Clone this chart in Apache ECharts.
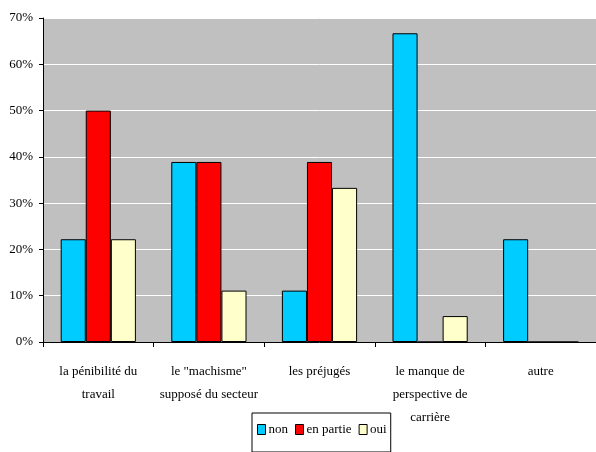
<!DOCTYPE html>
<html>
<head>
<meta charset="utf-8">
<script src="https://cdn.jsdelivr.net/npm/echarts@6/dist/echarts.min.js"></script>
<style>
  html, body { margin: 0; padding: 0; background: #fff; }
  #chart { width: 596px; height: 452px; }
</style>
</head>
<body>
<div id="chart"></div>
<script>
// categories and values (percent)
const categories = [
  'la pénibilité du\ntravail',
  'le "machisme"\nsupposé du secteur',
  'les préjugés',
  'le manque de\nperspective de\ncarrière',
  'autre'
]
const seriesNames = ['non', 'en partie', 'oui']
const nonValues = [22.2, 38.9, 11.1, 66.7, 22.2]
const enPartieValues = [50, 38.9, 38.9, 0, 0]
const ouiValues = [22.2, 11.1, 33.3, 5.6, 0]
const colors = ['#00ccff', '#ff0000', '#ffffcc']

const chart = echarts.init(document.getElementById('chart'))
const font = 'Liberation Serif'

const makeSeries = (name, values, color) => ({
  name: name,
  type: 'bar',
  data: values,
  barGap: '0%',
  barCategoryGap: '32%',
  itemStyle: { color: color, borderColor: '#000', borderWidth: 1 },
  animation: false
})

chart.setOption({
  animation: false,
  grid: { left: 43, top: 18, width: 557, height: 324, backgroundColor: '#c0c0c0', show: true, borderWidth: 0 },
  legend: {
    left: 252,
    top: 413,
    itemWidth: 8,
    itemHeight: 10,
    itemGap: 7,
    padding: [10, 4, 16, 5],
    borderColor: '#000',
    borderWidth: 1,
    icon: 'rect',
    textStyle: { fontFamily: font, fontSize: 13, color: '#000', padding: [0, 0, 0, -2] },
    data: seriesNames.map(n => ({ name: n, itemStyle: { borderColor: '#000', borderWidth: 1 } }))
  },
  xAxis: {
    type: 'category',
    data: categories,
    z: 10,
    axisLine: { lineStyle: { color: '#000', width: 1 } },
    axisTick: { show: true, length: 5, lineStyle: { color: '#000' } },
    axisLabel: { fontFamily: font, fontSize: 13, color: '#000', lineHeight: 23, margin: 18, interval: 0 }
  },
  yAxis: {
    type: 'value',
    min: 0,
    max: 70,
    interval: 10,
    axisLine: { show: true, lineStyle: { color: '#000', width: 1 } },
    axisTick: { show: true, length: 4, lineStyle: { color: '#000' } },
    axisLabel: { fontFamily: font, fontSize: 13, color: '#000', margin: 10, formatter: '{value}%' },
    splitLine: { lineStyle: { color: '#ffffff', width: 1 } }
  },
  series: [
    makeSeries(seriesNames[0], nonValues, colors[0]),
    makeSeries(seriesNames[1], enPartieValues, colors[1]),
    makeSeries(seriesNames[2], ouiValues, colors[2])
  ]
})
</script>
</body>
</html>
